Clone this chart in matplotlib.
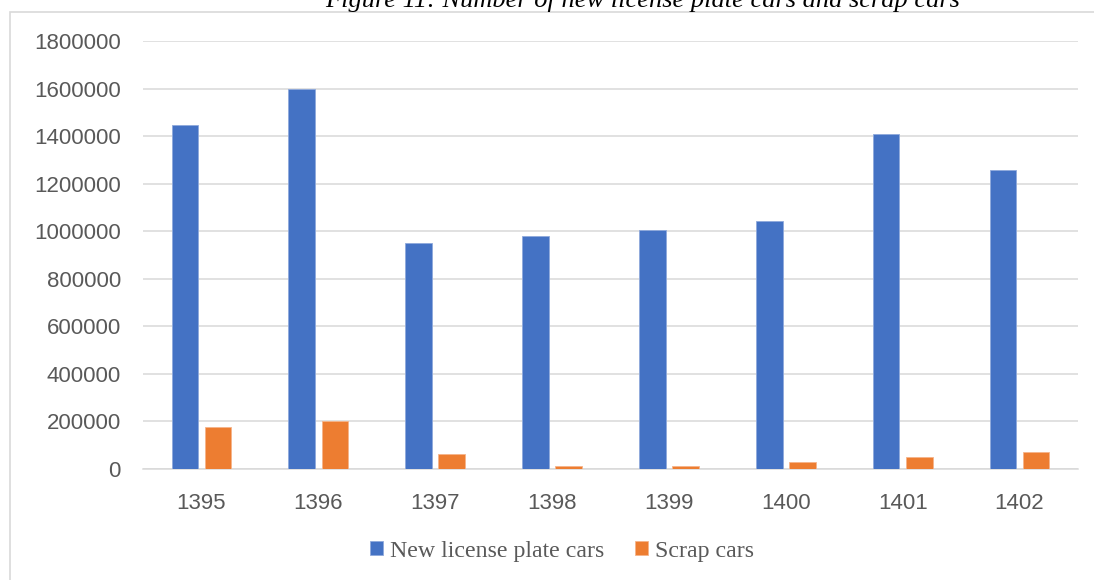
import numpy as np
import matplotlib
matplotlib.use("Agg")
from matplotlib import pyplot as plt
from matplotlib.patches import Rectangle

years = ['1395', '1396', '1397', '1398', '1399', '1400', '1401', '1402']
new_plate = [1447000, 1598000, 952000, 978000, 1004000, 1045000, 1407000, 1258000]
scrap = [175000, 203000, 63000, 13000, 14000, 28000, 52000, 72000]
y_ticks = [0, 200000, 400000, 600000, 800000, 1000000, 1200000, 1400000, 1600000, 1800000]

blue = '#4472C4'
orange = '#ED7D31'
grid_col = '#d9d9d9'
text_col = '#595959'

fig = plt.figure(figsize=(10.94, 5.8), dpi=100)
ax = fig.add_axes([143/1094, 1 - 469/580, (1078 - 143)/1094, (469 - 41)/580])

x = np.arange(len(years))
w = 0.228
off = 0.142
ax.bar(x - off, new_plate, w, color=blue, edgecolor='#8fa9dc', linewidth=0.6,
       label='New license plate cars', zorder=3)
ax.bar(x + off, scrap, w, color=orange, edgecolor='#f5b48a', linewidth=0.6,
       label='Scrap cars', zorder=3)

ax.set_xlim(-0.5, len(years) - 0.5)
ax.set_ylim(0, 1800000)
ax.set_yticks(y_ticks)
ax.set_yticklabels([str(v) for v in y_ticks])
ax.set_xticks(x)
ax.set_xticklabels(years)

ax.grid(axis='y', color=grid_col, linewidth=1.1, zorder=0)
ax.set_axisbelow(True)
for s in ['top', 'right', 'left']:
    ax.spines[s].set_visible(False)
ax.spines['bottom'].set_color(grid_col)
ax.spines['bottom'].set_linewidth(1.1)
ax.tick_params(axis='both', length=0, colors=text_col)
ax.tick_params(axis='y', pad=16, labelsize=16)
ax.tick_params(axis='x', pad=17, labelsize=16)
for lab in ax.get_xticklabels() + ax.get_yticklabels():
    lab.set_fontfamily('Liberation Sans')

leg = fig.legend(loc='center', bbox_to_anchor=(562/1094, 1 - 551/580), ncol=2, frameon=False,
                 prop={'family': 'Liberation Serif', 'size': 17.2},
                 handlelength=0.55, handleheight=0.55, handletextpad=0.3, columnspacing=1.25)
for t in leg.get_texts():
    t.set_color(text_col)

# outer chart frame, running past the right and bottom edges
fig.patches.append(Rectangle((10/1094, -0.5), 2.0, 1.5 - 12/580,
                             transform=fig.transFigure, fill=False,
                             edgecolor=grid_col, linewidth=1.2))

fig.text(643/1094, 1 - 6.5/580, 'Figure 11: Number of new license plate cars and scrap cars',
         ha='center', va='baseline', fontfamily='Liberation Serif', style='italic',
         fontsize=19, color='black')

fig.savefig('out.png', dpi=100)
